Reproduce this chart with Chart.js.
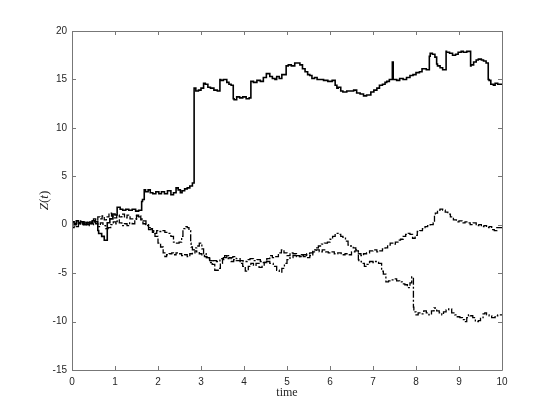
<!DOCTYPE html>
<html>
<head>
<meta charset="utf-8">
<script src="https://cdn.jsdelivr.net/npm/chart.js@4.4.1/dist/chart.umd.min.js"></script>
<style>
html,body{margin:0;padding:0;background:#fff;}
#wrap{width:555px;height:416px;}
</style>
</head>
<body>
<div id="wrap"><canvas id="c" width="555" height="416"></canvas></div>
<script>
// Axis ticks
const xTicks = [0,1,2,3,4,5,6,7,8,9,10];
const yTicks = [-15,-10,-5,0,5,10,15,20];
const xLabel = 'time';
const yLabel = ['Z','(','t',')'];

// Path 1 (solid)
const tA = [0,0.05,0.1,0.15,0.2,0.27,0.33,0.4,0.47,0.53,0.6,0.62,0.69,0.75,0.82,0.82,0.88,0.95,1.0,1.05,1.12,1.18,1.25,1.32,1.4,1.48,1.55,1.62,1.64,1.68,1.71,1.77,1.82,1.88,1.95,2.02,2.08,2.15,2.22,2.3,2.36,2.42,2.47,2.52,2.56,2.62,2.68,2.74,2.8,2.84,2.84,2.88,2.94,3.0,3.06,3.1,3.16,3.22,3.3,3.38,3.44,3.46,3.52,3.6,3.65,3.7,3.75,3.77,3.83,3.9,3.97,4.05,4.12,4.16,4.16,4.22,4.3,4.38,4.45,4.52,4.6,4.66,4.72,4.76,4.82,4.88,4.92,4.98,5.03,5.1,5.18,5.25,5.3,5.36,5.42,5.48,5.53,5.58,5.64,5.7,5.78,5.85,5.95,6.05,6.12,6.16,6.19,6.25,6.3,6.39,6.47,6.55,6.62,6.7,6.78,6.85,6.89,6.95,7.02,7.09,7.15,7.22,7.28,7.32,7.38,7.45,7.47,7.48,7.55,7.62,7.7,7.78,7.86,7.93,8.0,8.08,8.14,8.17,8.24,8.31,8.33,8.38,8.44,8.48,8.5,8.56,8.62,8.67,8.7,8.71,8.78,8.85,8.92,8.98,9.05,9.1,9.18,9.25,9.27,9.28,9.34,9.4,9.45,9.52,9.57,9.63,9.68,9.7,9.74,9.8,9.84,9.9,9.95,10];
const zA = [0.0,0.3,0.1,0.4,0.2,0.3,0.0,0.2,0.1,0.4,0.3,-0.6,-0.9,-1.2,-1.6,-0.2,0.2,0.6,1.1,1.0,1.8,1.6,1.5,1.6,1.5,1.6,1.4,1.5,2.4,2.6,3.6,3.4,3.6,3.3,3.2,3.4,3.2,3.4,3.2,3.5,3.1,3.3,3.8,3.6,3.3,3.5,3.7,3.8,4.0,4.3,13.9,14.1,13.8,13.9,14.1,14.6,14.5,14.2,14.1,13.9,13.8,15.0,14.9,15.0,14.7,14.5,14.4,13.0,12.9,13.2,13.1,13.2,13.0,13.1,14.6,14.8,14.7,14.9,14.8,15.2,15.6,15.3,15.1,15.0,15.3,15.1,15.5,15.5,16.4,16.5,16.4,16.7,16.7,16.5,16.1,15.8,15.5,15.4,15.1,15.2,15.0,15.0,14.9,14.8,14.9,14.4,14.1,14.2,13.8,13.7,13.8,13.8,13.9,13.6,13.5,13.3,13.4,13.4,13.7,13.9,14.1,14.4,14.5,14.7,14.8,15.0,16.8,15.0,15.0,14.9,15.1,15.0,15.2,15.4,15.5,15.7,15.8,16.1,16.1,16.0,17.4,17.7,17.6,17.3,16.6,16.4,16.2,16.0,16.0,17.9,17.8,17.7,17.5,17.6,17.8,17.9,17.8,17.9,17.9,16.4,16.5,16.8,17.0,17.1,17.0,16.9,16.7,15.0,14.9,14.5,14.4,14.6,14.5,14.5];

// Path 2 (dashed)
const tB = [0,0.05,0.1,0.15,0.2,0.25,0.3,0.35,0.4,0.45,0.5,0.55,0.6,0.65,0.7,0.75,0.8,0.86,0.92,0.98,1.04,1.1,1.16,1.22,1.28,1.35,1.42,1.5,1.55,1.6,1.65,1.71,1.78,1.87,1.93,2.0,2.06,2.12,2.16,2.2,2.26,2.32,2.36,2.42,2.48,2.55,2.62,2.68,2.74,2.8,2.86,2.9,2.96,3.02,3.08,3.14,3.2,3.26,3.32,3.4,3.45,3.5,3.55,3.6,3.65,3.7,3.76,3.82,3.91,3.97,4.03,4.1,4.16,4.22,4.28,4.35,4.42,4.47,4.53,4.6,4.66,4.72,4.8,4.87,4.93,5.0,5.07,5.14,5.22,5.3,5.38,5.45,5.53,5.6,5.68,5.75,5.82,5.9,5.96,6.03,6.1,6.18,6.26,6.35,6.43,6.5,6.58,6.66,6.72,6.78,6.85,6.92,7.0,7.09,7.16,7.22,7.28,7.34,7.4,7.46,7.52,7.58,7.64,7.7,7.76,7.82,7.86,7.92,7.98,8.03,8.09,8.15,8.21,8.27,8.33,8.4,8.43,8.45,8.5,8.56,8.62,8.68,8.74,8.8,8.87,8.94,9.0,9.07,9.14,9.2,9.26,9.33,9.4,9.46,9.52,9.58,9.64,9.7,9.76,9.82,9.88,9.94,10];
const zB = [-0.1,0.3,0.0,0.2,0.1,0.4,0.1,0.3,0.0,0.3,0.2,0.6,0.4,0.8,0.6,0.9,0.5,0.8,1.2,0.9,0.7,1.0,0.8,1.1,0.7,1.0,0.6,0.6,0.9,0.9,0.5,0.1,0.0,-0.3,-0.8,-1.2,-1.9,-2.3,-2.9,-3.3,-3.1,-3.0,-2.9,-3.1,-2.9,-3.0,-3.2,-3.1,-3.3,-3.0,-2.9,-2.7,-2.8,-3.0,-3.1,-3.3,-3.5,-3.7,-4.1,-4.7,-4.5,-4.0,-3.6,-3.2,-3.5,-3.4,-3.8,-3.6,-3.7,-4.0,-4.3,-4.8,-4.3,-4.0,-4.2,-4.0,-4.4,-4.3,-3.9,-3.5,-3.2,-3.4,-3.3,-2.9,-2.6,-2.9,-3.2,-2.9,-3.0,-3.2,-3.3,-3.1,-3.4,-3.2,-2.8,-2.6,-2.8,-2.6,-2.8,-2.9,-2.8,-3.0,-2.9,-3.1,-3.0,-3.1,-2.8,-2.7,-3.0,-3.2,-3.0,-2.9,-2.7,-2.6,-2.8,-2.7,-2.5,-2.4,-2.1,-1.9,-2.0,-1.8,-1.6,-1.5,-1.2,-1.0,-0.9,-1.0,-1.4,-1.1,-0.7,-0.6,-0.4,-0.2,-0.1,0.0,0.2,1.0,1.2,1.5,1.6,1.5,1.3,1.1,0.8,0.5,0.3,0.4,0.2,0.3,0.2,0.0,0.2,-0.1,0.0,-0.2,-0.1,-0.3,-0.2,-0.5,-0.6,-0.3,-0.3];

// Path 3 (dash-dot)
const tC = [0,0.05,0.1,0.15,0.2,0.25,0.3,0.35,0.4,0.45,0.5,0.55,0.6,0.66,0.72,0.78,0.84,0.9,0.96,1.02,1.05,1.1,1.16,1.22,1.28,1.34,1.4,1.46,1.5,1.55,1.6,1.66,1.72,1.78,1.84,1.9,1.97,2.03,2.1,2.16,2.22,2.3,2.36,2.43,2.49,2.55,2.58,2.63,2.68,2.72,2.76,2.77,2.8,2.84,2.9,2.96,3.02,3.06,3.12,3.2,3.28,3.36,3.44,3.52,3.6,3.67,3.74,3.82,3.91,3.98,4.07,4.14,4.22,4.3,4.38,4.45,4.52,4.6,4.68,4.76,4.82,4.88,4.94,5.0,5.07,5.14,5.22,5.3,5.38,5.46,5.53,5.6,5.66,5.73,5.8,5.87,5.94,6.0,6.06,6.12,6.19,6.25,6.3,6.36,6.42,6.48,6.54,6.6,6.66,6.67,6.73,6.8,6.86,6.92,7.0,7.06,7.13,7.2,7.24,7.3,7.36,7.42,7.49,7.55,7.62,7.68,7.74,7.8,7.86,7.9,7.94,7.95,8.0,8.05,8.12,8.18,8.24,8.3,8.36,8.42,8.48,8.54,8.6,8.64,8.7,8.76,8.83,8.9,8.96,9.02,9.08,9.13,9.18,9.22,9.26,9.32,9.38,9.45,9.5,9.56,9.6,9.64,9.7,9.76,9.84,9.9,9.95,10];
const zC = [0.0,-0.3,0.1,-0.2,0.2,0.0,0.3,0.1,-0.1,0.2,0.0,0.3,0.1,-0.2,0.2,-0.1,-0.4,-0.3,0.0,0.3,0.1,0.5,0.2,-0.1,0.1,-0.1,0.2,0.1,0.4,1.0,0.8,0.6,0.4,-0.1,-0.5,-0.4,-0.9,-0.6,-0.7,-0.6,-0.8,-0.9,-1.2,-1.8,-1.9,-1.8,-1.2,-0.4,-0.2,-0.3,-0.6,-1.9,-2.3,-2.6,-2.4,-2.2,-1.9,-2.5,-3.0,-3.4,-3.9,-3.7,-3.8,-3.5,-3.4,-3.2,-3.4,-3.3,-3.5,-3.7,-3.8,-3.6,-3.5,-3.7,-3.6,-3.8,-3.9,-3.8,-4.0,-4.3,-4.7,-4.9,-4.5,-4.0,-3.6,-3.4,-3.2,-3.3,-3.1,-3.3,-3.0,-2.9,-2.6,-2.4,-2.2,-2.0,-1.9,-1.8,-1.5,-1.2,-0.9,-1.0,-1.2,-1.3,-1.7,-2.1,-2.2,-2.4,-2.6,-3.6,-3.8,-4.0,-4.3,-4.1,-3.8,-3.9,-3.8,-4.0,-4.8,-5.1,-5.9,-5.8,-5.7,-5.6,-5.8,-5.9,-6.1,-6.2,-6.5,-6.0,-5.4,-8.5,-9.0,-9.3,-9.1,-9.2,-8.9,-9.1,-9.3,-8.9,-8.6,-8.9,-9.1,-9.3,-9.0,-8.8,-8.7,-9.1,-9.3,-9.5,-9.6,-9.8,-10.0,-9.6,-9.3,-9.4,-9.6,-10.0,-9.9,-9.6,-9.2,-9.1,-9.3,-9.4,-9.6,-9.4,-9.3,-9.3];

const pts = (t, z) => t.map((v, i) => ({x: v, y: z[i]}));

const boxPlugin = {
  id: 'box',
  afterDraw(chart) {
    const {ctx, chartArea: a, scales: {x, y}} = chart;
    ctx.save();
    ctx.strokeStyle = '#777';
    ctx.lineWidth = 1;
    ctx.beginPath();
    ctx.rect(Math.round(a.left) + 0.5, Math.round(a.top) + 0.5, Math.round(a.right - a.left), Math.round(a.bottom - a.top));
    ctx.stroke();
    const L = 4;
    ctx.beginPath();
    xTicks.forEach(v => {
      const px = Math.round(x.getPixelForValue(v)) + 0.5;
      ctx.moveTo(px, a.bottom); ctx.lineTo(px, a.bottom - L);
      ctx.moveTo(px, a.top); ctx.lineTo(px, a.top + L);
    });
    yTicks.forEach(v => {
      const py = Math.round(y.getPixelForValue(v)) + 0.5;
      ctx.moveTo(a.left, py); ctx.lineTo(a.left + L, py);
      ctx.moveTo(a.right, py); ctx.lineTo(a.right - L, py);
    });
    ctx.stroke();
    // axis titles
    ctx.fillStyle = '#262626';
    ctx.textBaseline = 'middle';
    ctx.textAlign = 'center';
    ctx.font = '12px "Liberation Serif", "DejaVu Serif", serif';
    ctx.fillText(xLabel, (a.left + a.right) / 2, 393);
    ctx.translate(45, (a.top + a.bottom) / 2);
    ctx.rotate(-Math.PI / 2);
    const fonts = ['italic 13px "Liberation Serif", serif', '13px "Liberation Serif", serif', 'italic 13px "Liberation Serif", serif', '13px "Liberation Serif", serif'];
    let widths = yLabel.map((s, i) => { ctx.font = fonts[i]; return ctx.measureText(s).width; });
    let total = widths.reduce((p, q) => p + q, 0);
    let cx = -total / 2;
    ctx.textAlign = 'left';
    yLabel.forEach((s, i) => { ctx.font = fonts[i]; ctx.fillText(s, cx, 0); cx += widths[i]; });
    ctx.restore();
  }
};

new Chart(document.getElementById('c'), {
  type: 'scatter',
  data: {
    datasets: [
      {data: pts(tA, zA), showLine: true, stepped: 'after', borderColor: '#000', borderWidth: 1.6, pointRadius: 0},
      {data: pts(tB, zB), showLine: true, stepped: 'after', borderColor: '#000', borderWidth: 1.3, borderDash: [6, 2], pointRadius: 0},
      {data: pts(tC, zC), showLine: true, stepped: 'after', borderColor: '#000', borderWidth: 1.3, borderDash: [7, 2, 2, 2], pointRadius: 0}
    ]
  },
  options: {
    responsive: false,
    animation: false,
    devicePixelRatio: 1,
    layout: {padding: {left: 0, right: 53, top: 31, bottom: 0}},
    plugins: {legend: {display: false}, tooltip: {enabled: false}},
    scales: {
      x: {
        type: 'linear', min: 0, max: 10,
        afterBuildTicks: s => { s.ticks = xTicks.map(v => ({value: v})); },
        ticks: {color: '#262626', font: {family: '"Liberation Sans", Arial, sans-serif', size: 10}, padding: 6, maxRotation: 0},
        grid: {display: false, drawTicks: false},
        border: {display: false},
        afterFit: s => { s.height = 46; }
      },
      y: {
        type: 'linear', min: -15, max: 20,
        afterBuildTicks: s => { s.ticks = yTicks.map(v => ({value: v})); },
        ticks: {color: '#262626', font: {family: '"Liberation Sans", Arial, sans-serif', size: 10}, padding: 5},
        grid: {display: false, drawTicks: false},
        border: {display: false},
        afterFit: s => { s.width = 72; }
      }
    }
  },
  plugins: [boxPlugin]
});
</script>
</body>
</html>
